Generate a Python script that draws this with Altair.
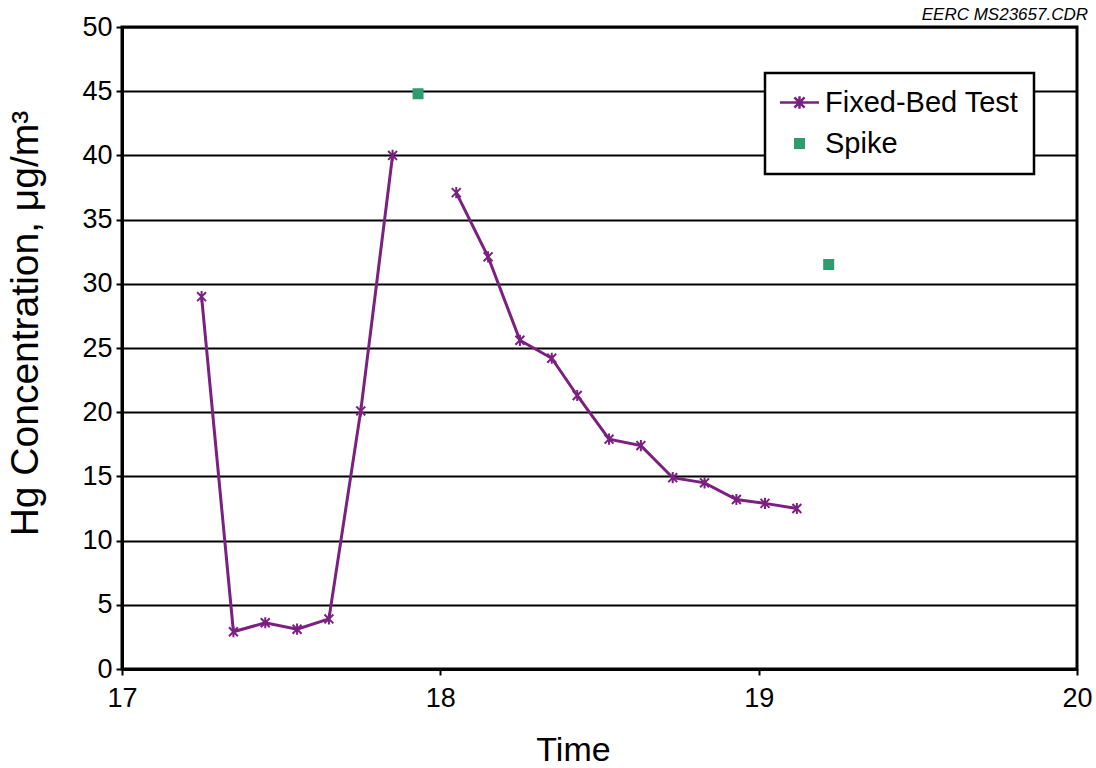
import altair as alt
import pandas as pd

# Fixed-bed run: time of day (h) and Hg concentration (ug/m3); run 1 / run 2 split at the spike
bed_time = [17.25, 17.35, 17.45, 17.55, 17.65, 17.75, 17.85,
            18.05, 18.15, 18.25, 18.35, 18.43, 18.53, 18.63, 18.73, 18.83, 18.93, 19.02, 19.12]
bed_hg = [29.0, 2.9, 3.6, 3.1, 3.9, 20.1, 40.0,
          37.1, 32.1, 25.6, 24.2, 21.3, 17.9, 17.4, 14.9, 14.5, 13.2, 12.9, 12.5]
bed_run = [1, 1, 1, 1, 1, 1, 1,
           2, 2, 2, 2, 2, 2, 2, 2, 2, 2, 2, 2]

# Spike checks
spike_time = [17.93, 19.22]
spike_hg = [44.8, 31.5]

series_names = ["Fixed-Bed Test", "Spike"]
y_ticks = [0, 5, 10, 15, 20, 25, 30, 35, 40, 45, 50]
x_ticks = [17, 18, 19, 20]

PURPLE = "#7b1f80"
GREEN = "#2e9c6c"
FONT = "Liberation Sans"

ASTERISK = "M-1,-1L1,1M-1,1L1,-1M0,-1.25L0,1.25"
LEGEND_LINE_STAR = "M-4.6,0L4.6,0M-1.2,-1.2L1.2,1.2M-1.2,1.2L1.2,-1.2M0,-1.5L0,1.5"
SQUARE = "M-1,-1L1,-1L1,1L-1,1Z"

bed = pd.DataFrame({"time": bed_time, "hg": bed_hg, "run": bed_run,
                    "series": [series_names[0]] * len(bed_time)})
spike = pd.DataFrame({"time": spike_time, "hg": spike_hg,
                      "series": [series_names[1]] * len(spike_time)})

x_enc = alt.X("time:Q", scale=alt.Scale(domain=[17, 20], nice=False),
              axis=alt.Axis(values=x_ticks, grid=False, title="Time", format="d",
                            labelFlush=False, titleX=451, titlePadding=22,
                            labelPadding=10, tickSize=6))
y_enc = alt.Y("hg:Q", scale=alt.Scale(domain=[0, 50], nice=False),
              axis=alt.Axis(values=y_ticks, grid=True, title="Hg Concentration, μg/m³",
                            titleFontSize=39, titlePadding=36, titleY=296,
                            labelPadding=4, tickSize=6))

line = alt.Chart(bed).mark_line(color=PURPLE, strokeWidth=3).encode(
    x=x_enc, y=y_enc, detail="run:N"
)

stars = alt.Chart(bed).mark_point(
    shape=ASTERISK, filled=False, size=80, strokeWidth=2, color=PURPLE, opacity=1
).encode(x="time:Q", y="hg:Q")

legend = alt.Legend(
    title=None, orient="none", legendX=643, legendY=46,
    fillColor="white", strokeColor="black", padding=15,
    labelFont=FONT, labelFontSize=29, labelColor="black", labelLimit=400,
    symbolSize=72, symbolStrokeWidth=2.5, symbolOffset=5, labelOffset=11,
    rowPadding=11,
)

spikes = alt.Chart(spike).mark_point(filled=True, size=72, strokeWidth=2.5, opacity=1).encode(
    x="time:Q", y="hg:Q",
    fill=alt.Fill("series:N", scale=alt.Scale(domain=series_names, range=[PURPLE, GREEN]), legend=legend),
    stroke=alt.Stroke("series:N", scale=alt.Scale(domain=series_names, range=[PURPLE, GREEN]), legend=legend),
    shape=alt.Shape("series:N", scale=alt.Scale(domain=series_names, range=[LEGEND_LINE_STAR, SQUARE]), legend=legend),
)

chart = alt.layer(line, stars, spikes).properties(
    width=955, height=642,
    background="white",
    padding={"left": 122, "top": 27, "right": 19, "bottom": 99},
    autosize=alt.AutoSizeParams(type="none"),
    title=alt.TitleParams("EERC MS23657.CDR", anchor="end", font=FONT, fontSize=17,
                          fontStyle="italic", fontWeight="normal", color="black",
                          offset=4, dx=-4, dy=15),
).configure_view(
    stroke="black", strokeWidth=3
).configure_axis(
    domainColor="black", domainWidth=3, tickColor="black", tickWidth=2,
    gridColor="black", gridWidth=2, gridOpacity=1,
    labelFont=FONT, labelFontSize=27, labelColor="black",
    titleFont=FONT, titleFontSize=34, titleFontWeight="normal", titleColor="black",
).configure_legend(
    strokeWidth=2.5
)

chart.save("out.html", embed_options={"renderer": "svg", "actions": False})
